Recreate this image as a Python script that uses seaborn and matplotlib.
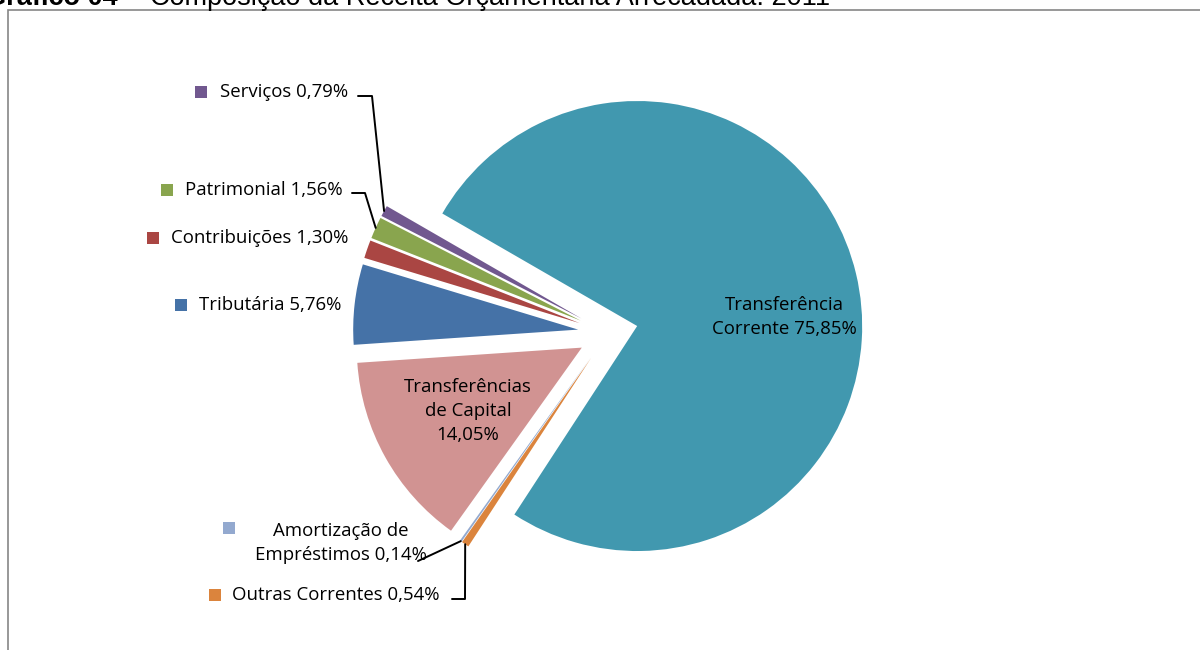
import numpy as np
import matplotlib
matplotlib.use("Agg")
import matplotlib.pyplot as plt
import seaborn as sns
from matplotlib.patches import Rectangle

# data (Excel order, clockwise)
categorias = ["Transferência Corrente", "Outras Correntes", "Amortização de Empréstimos",
              "Transferências de Capital", "Tributária", "Contribuições", "Patrimonial", "Serviços"]
valores = [75.85, 0.54, 0.14, 14.05, 5.76, 1.30, 1.56, 0.79]
cores = ["#4198AF", "#DB843D", "#93A9CF", "#D19392", "#4572A7", "#AA4643", "#89A54E", "#71588F"]

sns.set_style("white")
plt.rcParams['font.family'] = ['Open Sans', 'DejaVu Sans']
plt.rcParams['text.color'] = 'black'

fig = plt.figure(figsize=(12, 6.5), dpi=100)
ax = fig.add_axes([0, 0, 1, 1])

pal = sns.color_palette(cores)
# explode is in data units here (pixels)
wedges, _ = ax.pie(valores, colors=pal, startangle=150, counterclock=False,
                   explode=[30] * len(valores), center=(608, 317), radius=225,
                   wedgeprops=dict(linewidth=0))
ax.set_xlim(0, 1200)
ax.set_ylim(0, 650)
ax.set_aspect('equal')
ax.axis('off')

def fmt(v):
    return f"{v:.2f}".replace(".", ",") + "%"

def edge_point(w, frac=0.5):
    ang = np.deg2rad(w.theta1 + (w.theta2 - w.theta1) * frac)
    cx, cy = w.center
    return cx + w.r * np.cos(ang), cy + w.r * np.sin(ang)

fs = 13.4
ls = 1.4
# labels inside slices
ax.text(784, 650 - 317, "Transferência\nCorrente " + fmt(valores[0]), ha='center', va='center',
        fontsize=fs, linespacing=ls)
ax.text(468, 650 - 411, "Transferências\nde Capital\n" + fmt(valores[3]), ha='center', va='center',
        fontsize=fs, linespacing=ls)

# outside labels with colored markers
def outside(i, sqx, tx, y, txt=None):
    ax.scatter([sqx], [650 - y], marker='s', s=70, color=pal[i], linewidths=0)
    ax.text(tx, 650 - y, txt if txt else f"{categorias[i]} {fmt(valores[i])}",
            ha='right', va='center', fontsize=fs)

outside(7, 201, 348, 92)
outside(6, 167, 343, 190)
outside(5, 153, 348, 238)
outside(4, 181, 341, 305)
outside(1, 215, 440, 595)
ax.scatter([229], [650 - 528], marker='s', s=70, color=pal[2], linewidths=0)
ax.text(341, 650 - 543, "Amortização de\nEmpréstimos " + fmt(valores[2]), ha='center', va='center',
        fontsize=fs, linespacing=ls)

# leader lines
lk = dict(color='black', lw=1.4)
px, py = edge_point(wedges[7])
ax.plot([358, 372, px], [650 - 96, 650 - 96, py], **lk)
px, py = edge_point(wedges[6])
ax.plot([352, 365, px], [650 - 193, 650 - 193, py], **lk)
px, py = edge_point(wedges[2])
ax.plot([418, px], [650 - 561, py], **lk)
px, py = edge_point(wedges[1])
ax.plot([452, 465, px], [650 - 599, 650 - 599, py], **lk)

# frame
fig.patches.append(Rectangle((8 / 1200, -0.01), 1.2, (650 - 10) / 650 + 0.01, transform=fig.transFigure,
                             fill=False, edgecolor='#868686', lw=1.2))

# title (cut at the top)
fig.text(118 / 1200, 1 - 5 / 650, "Gráfico 04", fontsize=19.5, fontweight='bold',
         family='Liberation Sans', va='baseline', ha='right')
fig.text(124 / 1200, 1 - 5 / 650, "–", fontsize=19.5, family='Liberation Sans', va='baseline')
fig.text(150 / 1200, 1 - 5 / 650, "Composição da Receita Orçamentária Arrecadada: 2011",
         fontsize=19.5, family='Liberation Sans', va='baseline')

fig.savefig("out.png", dpi=100)
